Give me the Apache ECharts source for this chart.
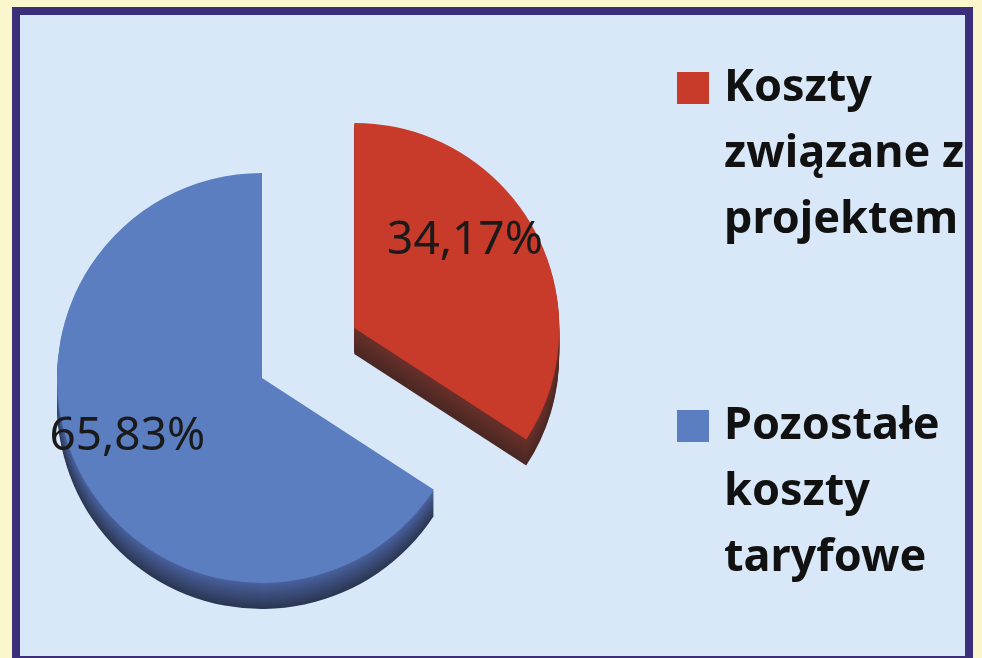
<!DOCTYPE html>
<html>
<head>
<meta charset="utf-8">
<title>Koszty</title>
<script src="https://cdn.jsdelivr.net/npm/echarts@6/dist/echarts.min.js"></script>
<style>
html, body { margin: 0; padding: 0; width: 982px; height: 658px; overflow: hidden; background: #fbf7cd; }
.frame { position: absolute; left: 12px; top: 7px; width: 945px; height: 641px; border: 8px solid #3b2f7b; background: #d9e8f8; overflow: hidden; }
#chart { position: absolute; left: 0; top: 0; width: 945px; height: 650px; }
</style>
</head>
<body>
<div class="frame"><div id="chart"></div></div>
<script>
// dane
const categories = ['Koszty związane z projektem', 'Pozostałe koszty taryfowe'];
const legendLines = ['Koszty\nzwiązane z\nprojektem', 'Pozostałe\nkoszty\ntaryfowe'];
const shares = [34.17, 65.83];

// kolory: wierzch i boki (jasny -> ciemny)
const topColors = ['#c83a29', '#5a7ec0'];
const sideLight = ['#6a302a', '#4a62a0'];
const sideDark = ['#4a2824', '#2c3753'];

const cx = 242, cy = 363, R = 205;
const depth = 26;
const explode = 105;
const labelShift = [[18, -37], [-42, 9]];

// kwadrat legendy przy pierwszej linii tekstu (3 linie po 66px)
const legendIcon = 'path://M0,0L0.01,0M0,17L32,17L32,49L0,49ZM42,198L41.99,198';

function mix(a, b, t) {
  const pa = [1, 3, 5].map(i => parseInt(a.substr(i, 2), 16));
  const pb = [1, 3, 5].map(i => parseInt(b.substr(i, 2), 16));
  return 'rgb(' + pa.map((v, k) => Math.round(v + (pb[k] - v) * t)).join(',') + ')';
}

const chart = echarts.init(document.getElementById('chart'));

const series = [];
// boki "3D" - kilka warstw przesunietych w dol
for (let d = depth; d > 0; d -= 2) {
  const t = d / depth;
  series.push({
    type: 'pie',
    silent: true,
    center: [cx, cy + d],
    radius: R,
    startAngle: 90,
    selectedMode: 'single',
    selectedOffset: explode,
    avoidLabelOverlap: false,
    label: { show: false },
    labelLine: { show: false },
    emphasis: { disabled: true },
    data: categories.map((name, i) => ({
      name: name,
      value: shares[i],
      selected: i === 0,
      itemStyle: { color: mix(sideLight[i], sideDark[i], t) }
    }))
  });
}

// wierzch
series.push({
  type: 'pie',
  silent: true,
  center: [cx, cy],
  radius: R,
  startAngle: 90,
  selectedMode: 'single',
  selectedOffset: explode,
  avoidLabelOverlap: false,
  emphasis: { disabled: true },
  label: {
    show: true,
    position: 'inside',
    fontFamily: 'Noto Sans',
    fontSize: 46,
    color: '#1a1a1a',
    formatter: p => p.value.toFixed(2).replace('.', ',') + '%'
  },
  labelLine: { show: false },
  labelLayout: p => ({ dx: labelShift[p.dataIndex][0], dy: labelShift[p.dataIndex][1] }),
  data: categories.map((name, i) => ({
    name: name,
    value: shares[i],
    selected: i === 0,
    itemStyle: { color: topColors[i] }
  }))
});

chart.setOption({
  animation: false,
  legend: {
    orient: 'vertical',
    left: 657,
    top: 40,
    padding: 0,
    itemWidth: 42,
    itemHeight: 198,
    itemGap: 140,
    selectedMode: false,
    icon: legendIcon,
    itemStyle: { borderWidth: 0 },
    formatter: name => legendLines[categories.indexOf(name)],
    textStyle: {
      fontFamily: 'Noto Sans',
      fontWeight: 'bold',
      fontSize: 45,
      lineHeight: 66,
      color: '#111'
    },
    data: categories.map((name, i) => ({ name: name, itemStyle: { color: topColors[i] } }))
  },
  series: series
});
</script>
</body>
</html>
